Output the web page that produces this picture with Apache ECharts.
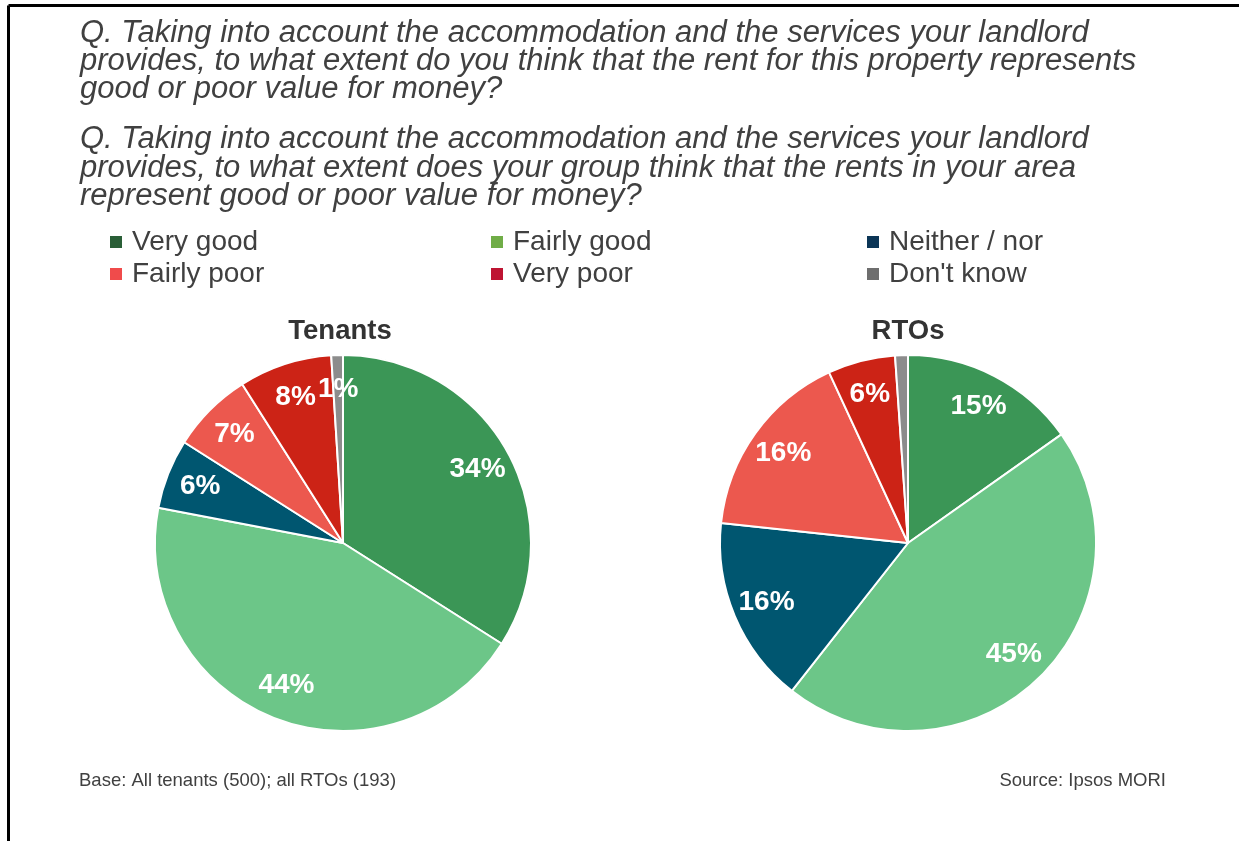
<!DOCTYPE html>
<html>
<head>
<meta charset="utf-8">
<script src="https://cdn.jsdelivr.net/npm/echarts@6/dist/echarts.min.js"></script>
<style>
html,body{margin:0;padding:0;background:#fff;}
#chart{width:1239px;height:841px;}
</style>
</head>
<body>
<div id="chart"></div>
<script>
const categories = ['Very good', 'Fairly good', 'Neither / nor', 'Fairly poor', 'Very poor', "Don't know"];
const tenantsValues = [34, 44, 6, 7, 8, 1];
const rtoValues = [15.2, 45.4, 16.1, 16.4, 5.8, 1.1];
const sliceColors = ['#3B9656', '#6CC688', '#005670', '#EC584E', '#CC2316', '#8C8C8C'];
const legendColors = ['#2A5F37', '#70AD47', '#0B3556', '#F04B4B', '#BE1432', '#6E6E6E'];
const pieTitles = ['Tenants', 'RTOs'];
const question1 = 'Q. Taking into account the accommodation and the services your landlord\nprovides, to what extent do you think that the rent for this property represents\ngood or poor value for money?';
const question2 = 'Q. Taking into account the accommodation and the services your landlord\nprovides, to what extent does your group think that the rents in your area\nrepresent good or poor value for money?';
const baseNote = 'Base: All tenants (500); all RTOs (193)';
const sourceNote = 'Source: Ipsos MORI';

const FONT = 'Liberation Sans, Arial, sans-serif';
const chart = echarts.init(document.getElementById('chart'));

function mkData(vals) {
  return categories.map((c, i) => ({ name: c, value: vals[i], itemStyle: { color: sliceColors[i] } }));
}
function pieSeries(vals, cx) {
  return [{
    type: 'pie', center: [cx, 543], radius: [0, 188], startAngle: 90, clockwise: true,
    data: mkData(vals), label: { show: false }, labelLine: { show: false },
    itemStyle: { borderColor: '#fff', borderWidth: 2 },
    emphasis: { disabled: true }, silent: true, animation: false
  }, {
    type: 'pie', center: [cx, 543], radius: [113, 188], startAngle: 90, clockwise: true,
    data: categories.map((c, i) => ({ name: c, value: vals[i], itemStyle: { color: 'rgba(0,0,0,0)' } })),
    label: {
      show: true, position: 'inside', color: '#fff', fontFamily: FONT, fontWeight: 'bold', fontSize: 28,
      formatter: p => Math.round(p.value) + '%'
    },
    labelLine: { show: false }, itemStyle: { borderWidth: 0 },
    emphasis: { disabled: true }, silent: true, animation: false
  }];
}
function legendCol(idxs, left) {
  return {
    orient: 'vertical', left: left, top: 228, padding: 0, itemGap: 4,
    itemWidth: 14, itemHeight: 14, icon: 'rect', selectedMode: false,
    textStyle: { fontFamily: FONT, fontSize: 28, color: '#404040', lineHeight: 28, padding: [0, 0, 0, 4] },
    data: idxs.map(i => ({ name: categories[i], itemStyle: { color: legendColors[i] } }))
  };
}

chart.setOption({
  animation: false,
  backgroundColor: '#fff',
  title: [
    { text: question1, left: 80, top: 19, padding: 0,
      textStyle: { fontFamily: FONT, fontStyle: 'italic', fontWeight: 'normal', fontSize: 31, lineHeight: 28.3, color: '#404040' } },
    { text: question2, left: 80, top: 125, padding: 0,
      textStyle: { fontFamily: FONT, fontStyle: 'italic', fontWeight: 'normal', fontSize: 31, lineHeight: 28.7, color: '#404040' } },
    { text: pieTitles[0], left: 340, top: 331, textAlign: 'center', textVerticalAlign: 'middle', padding: 0,
      textStyle: { fontFamily: FONT, fontWeight: 'bold', fontSize: 27.5, color: '#333' } },
    { text: pieTitles[1], left: 908, top: 331, textAlign: 'center', textVerticalAlign: 'middle', padding: 0,
      textStyle: { fontFamily: FONT, fontWeight: 'bold', fontSize: 27.5, color: '#333' } }
  ],
  legend: [legendCol([0, 3], 108), legendCol([1, 4], 489), legendCol([2, 5], 865)],
  series: [...pieSeries(tenantsValues, 343), ...pieSeries(rtoValues, 908)],
  graphic: [
    { type: 'line', shape: { x1: 8.5, y1: 5.5, x2: 1239, y2: 5.5 }, style: { stroke: '#000', lineWidth: 3 } },
    { type: 'line', shape: { x1: 8.5, y1: 5.5, x2: 8.5, y2: 841 }, style: { stroke: '#000', lineWidth: 3 } },
    { type: 'text', left: 79, top: 771, style: { text: baseNote, fontFamily: FONT, fontSize: 18.5, fill: '#404040' } },
    { type: 'text', right: 73, top: 771, style: { text: sourceNote, fontFamily: FONT, fontSize: 18.5, fill: '#404040' } }
  ]
});
</script>
</body>
</html>
